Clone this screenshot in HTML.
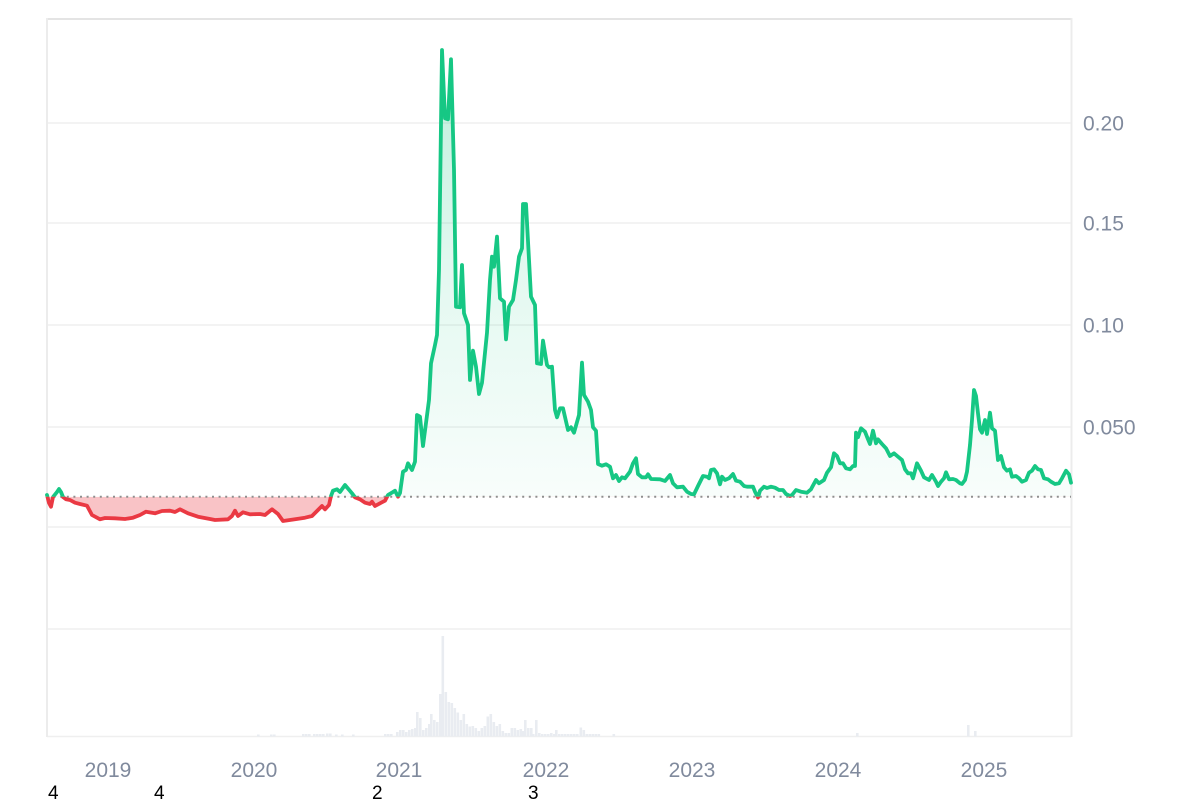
<!DOCTYPE html>
<html>
<head>
<meta charset="utf-8">
<style>
  html,body{margin:0;padding:0;background:#fff;}
  svg{display:block;}
  text{font-family:"Liberation Sans",Arial,sans-serif;}
</style>
</head>
<body>
<svg width="1200" height="800" viewBox="0 0 1200 800" xmlns="http://www.w3.org/2000/svg">
  <defs>
    <linearGradient id="gfill" gradientUnits="userSpaceOnUse" x1="0" y1="40" x2="0" y2="497">
      <stop offset="0" stop-color="#16c784" stop-opacity="0.30"/>
      <stop offset="0.5" stop-color="#16c784" stop-opacity="0.12"/>
      <stop offset="1" stop-color="#16c784" stop-opacity="0.03"/>
    </linearGradient>
    <clipPath id="above"><rect x="0" y="0" width="1200" height="496.7"/></clipPath>
    <clipPath id="below"><rect x="0" y="496.7" width="1200" height="303.3"/></clipPath>
    <path id="area" d="M47 495 49 503 51 506.7 53 497 57 492 59 489 61 492 63 497 66 499.3 70 500 75 502.7 80 504 87 505.7 92 515 100 519.3 105 518 115 518.3 125 519 133 517.7 140 515 146 511.7 155 513.3 162 511 170 510.7 175 512 180 509.3 188 513.3 198 516.7 210 519 215 520 228 519.3 232 516 235 510.7 238 516 243 512.3 250 514.3 260 514 265 515 272 509.3 278 514 283 521 295 519.3 305 517.7 312 516 318 510 322 506 325 509.3 329 505 331 496 333 490.7 337 489.3 340 492 345 485 352 493.3 355 497.3 360 499.3 365 502.7 370 504 372 501.7 375 506 380 503.3 385 500.7 388 495 393 492 395 490.7 398 496.7 400 493 403 471.7 406 470 408 463.3 412 470 415 461.7 417 415 420 416.7 423 446 429 400 431 363.3 435 345 437 335 439 270 442 50 445 118.3 448 119.3 451 59.3 454 170 456 306.7 460 307.3 462 265 464 313.3 468 325 470 380 473 350.7 476 366.7 479 394 482 382.7 487 332.7 490 280 492 256.7 494 266.7 497 236.7 500 298.3 504 301.7 506 339.3 509 306.7 513 300 516 280 519 256.7 522 248.3 523 204 526 204 531 296.7 535 305 537 363.3 541 364 543 340.7 547 365 549 367.3 552 366.7 555 410 557 417.3 560 408.3 563 408.3 568 430 571 427.3 574 432.7 579 415 582 362.7 584 395 588 401.7 591 410 593 427.3 596 430.7 598 464 602 465.7 606 464.3 610 466.7 613 478.3 616 475 619 481 622 477.3 625 478.3 630 471.7 633 463.3 636 458.3 638 474 642 477.3 646 477.3 648 474.3 651 479 660 479.3 665 481 670 475 673 483.3 677 487.3 683 486.7 687 491.7 691 494 694 494.3 698 486 703 476 707 476.7 709 478.3 711 470 714 469.3 717 473.3 720 484.3 722 476.7 725 480 729 478.3 733 474 736 480.7 740 481.7 744 486 747 486.7 753 486.7 755 491.7 758 497.5 760 490.7 764 486.7 767 488 771 486.7 775 487.7 779 490 783 490 786 494 790 496 792 495 796 490 801 491.7 807 492.7 811 489.3 812 487.3 816 480 819 483.3 824 480 827 472.7 831 467.3 834 453.3 837 456 840 463.3 843 463.3 846 468.3 850 469.3 853 466 855 466 856 432.7 858 437.3 861 428.3 865 431.7 868 439.3 870 444 873 430.7 876 443.3 878 439.3 882 444 886 448.3 890 456 894 453.3 898 456.7 902 460 905 469.3 908 473.3 911 473.3 913 478.3 917 463.3 921 470.7 924 477.3 929 480 932 475 936 481.7 938 486 941 481.7 944 478.3 946 472.3 949 479.3 953 479 956 480 960 483.3 962 484 965 480 967 471.7 970 445 972 420 974 390 976 396 978 413.3 980 429.3 982 432.7 985 420 987 434 990 412.7 992 428.3 995 430.7 998 460 1001 456 1004 467.3 1007 470.7 1010 469.3 1012 476.7 1016 476 1019 478.3 1022 481.7 1026 480 1029 472.7 1032 470.7 1035 466 1038 469.3 1041 470 1044 478.3 1048 479.3 1051 481.7 1055 484 1059 483.3 1062 478.3 1066 470.7 1069 474.3 1071 482.7 1071 496.7 47 496.7Z"/>
    <path id="line" d="M47,495 L49,503 L51,506.7 L53,497 L57,492 L59,489 L61,492 L63,497 L66,499.3 L70,500 L75,502.7 L80,504 L87,505.7 L92,515 L100,519.3 L105,518 L115,518.3 L125,519 L133,517.7 L140,515 L146,511.7 L155,513.3 L162,511 L170,510.7 L175,512 L180,509.3 L188,513.3 L198,516.7 L210,519 L215,520 L228,519.3 L232,516 L235,510.7 L238,516 L243,512.3 L250,514.3 L260,514 L265,515 L272,509.3 L278,514 L283,521 L295,519.3 L305,517.7 L312,516 L318,510 L322,506 L325,509.3 L329,505 L331,496 L333,490.7 L337,489.3 L340,492 L345,485 L352,493.3 L355,497.3 L360,499.3 L365,502.7 L370,504 L372,501.7 L375,506 L380,503.3 L385,500.7 L388,495 L393,492 L395,490.7 L398,496.7 L400,493 L403,471.7 L406,470 L408,463.3 L412,470 L415,461.7 L417,415 L420,416.7 L423,446 L429,400 L431,363.3 L435,345 L437,335 L439,270 L442,50 L445,118.3 L448,119.3 L451,59.3 L454,170 L456,306.7 L460,307.3 L462,265 L464,313.3 L468,325 L470,380 L473,350.7 L476,366.7 L479,394 L482,382.7 L487,332.7 L490,280 L492,256.7 L494,266.7 L497,236.7 L500,298.3 L504,301.7 L506,339.3 L509,306.7 L513,300 L516,280 L519,256.7 L522,248.3 L523,204 L526,204 L531,296.7 L535,305 L537,363.3 L541,364 L543,340.7 L547,365 L549,367.3 L552,366.7 L555,410 L557,417.3 L560,408.3 L563,408.3 L568,430 L571,427.3 L574,432.7 L579,415 L582,362.7 L584,395 L588,401.7 L591,410 L593,427.3 L596,430.7 L598,464 L602,465.7 L606,464.3 L610,466.7 L613,478.3 L616,475 L619,481 L622,477.3 L625,478.3 L630,471.7 L633,463.3 L636,458.3 L638,474 L642,477.3 L646,477.3 L648,474.3 L651,479 L660,479.3 L665,481 L670,475 L673,483.3 L677,487.3 L683,486.7 L687,491.7 L691,494 L694,494.3 L698,486 L703,476 L707,476.7 L709,478.3 L711,470 L714,469.3 L717,473.3 L720,484.3 L722,476.7 L725,480 L729,478.3 L733,474 L736,480.7 L740,481.7 L744,486 L747,486.7 L753,486.7 L755,491.7 L758,497.5 L760,490.7 L764,486.7 L767,488 L771,486.7 L775,487.7 L779,490 L783,490 L786,494 L790,496 L792,495 L796,490 L801,491.7 L807,492.7 L811,489.3 L812,487.3 L816,480 L819,483.3 L824,480 L827,472.7 L831,467.3 L834,453.3 L837,456 L840,463.3 L843,463.3 L846,468.3 L850,469.3 L853,466 L855,466 L856,432.7 L858,437.3 L861,428.3 L865,431.7 L868,439.3 L870,444 L873,430.7 L876,443.3 L878,439.3 L882,444 L886,448.3 L890,456 L894,453.3 L898,456.7 L902,460 L905,469.3 L908,473.3 L911,473.3 L913,478.3 L917,463.3 L921,470.7 L924,477.3 L929,480 L932,475 L936,481.7 L938,486 L941,481.7 L944,478.3 L946,472.3 L949,479.3 L953,479 L956,480 L960,483.3 L962,484 L965,480 L967,471.7 L970,445 L972,420 L974,390 L976,396 L978,413.3 L980,429.3 L982,432.7 L985,420 L987,434 L990,412.7 L992,428.3 L995,430.7 L998,460 L1001,456 L1004,467.3 L1007,470.7 L1010,469.3 L1012,476.7 L1016,476 L1019,478.3 L1022,481.7 L1026,480 L1029,472.7 L1032,470.7 L1035,466 L1038,469.3 L1041,470 L1044,478.3 L1048,479.3 L1051,481.7 L1055,484 L1059,483.3 L1062,478.3 L1066,470.7 L1069,474.3 L1071,482.7"/>
  </defs>

  <g stroke="#efefef" stroke-width="1.6" fill="none">
    <line x1="47" y1="123" x2="1071" y2="123"/>
    <line x1="47" y1="223" x2="1071" y2="223"/>
    <line x1="47" y1="325" x2="1071" y2="325"/>
    <line x1="47" y1="427" x2="1071" y2="427"/>
    <line x1="47" y1="527" x2="1071" y2="527"/>
    <line x1="47" y1="629" x2="1071" y2="629"/>
    <line x1="47" y1="736.5" x2="1071" y2="736.5"/>
  </g>
  <line x1="46" y1="19" x2="1072" y2="19" stroke="#e4e4e4" stroke-width="2"/>
  <line x1="47" y1="18" x2="47" y2="737" stroke="#ececec" stroke-width="2"/>
  <line x1="1071.5" y1="18" x2="1071.5" y2="737" stroke="#ececec" stroke-width="2"/>

  <g fill="#e9ecf1">
    <rect x="257" y="734.5" width="2.6" height="2"/>
    <rect x="270" y="734.5" width="2.6" height="2"/>
    <rect x="273" y="734.5" width="2.6" height="2"/>
    <rect x="302" y="734" width="2.6" height="2.5"/>
    <rect x="305" y="734" width="2.6" height="2.5"/>
    <rect x="308" y="734" width="2.6" height="2.5"/>
    <rect x="313" y="734" width="2.6" height="2.5"/>
    <rect x="316" y="734" width="2.6" height="2.5"/>
    <rect x="319" y="734" width="2.6" height="2.5"/>
    <rect x="322" y="734" width="2.6" height="2.5"/>
    <rect x="326" y="733.5" width="2.6" height="3"/>
    <rect x="329" y="733.5" width="2.6" height="3"/>
    <rect x="335" y="734.5" width="2.6" height="2"/>
    <rect x="341" y="734.5" width="2.6" height="2"/>
    <rect x="352" y="734.5" width="2.6" height="2"/>
    <rect x="384" y="734" width="2.6" height="2.5"/>
    <rect x="387" y="734" width="2.6" height="2.5"/>
    <rect x="390" y="734" width="2.6" height="2.5"/>
    <rect x="396" y="732" width="2.6" height="4.5"/>
    <rect x="399" y="730" width="2.6" height="6.5"/>
    <rect x="402" y="730" width="2.6" height="6.5"/>
    <rect x="405" y="732" width="2.6" height="4.5"/>
    <rect x="408" y="730" width="2.6" height="6.5"/>
    <rect x="411" y="729" width="2.6" height="7.5"/>
    <rect x="414" y="728" width="2.6" height="8.5"/>
    <rect x="416" y="712" width="2.6" height="24.5"/>
    <rect x="419" y="718" width="2.6" height="18.5"/>
    <rect x="422" y="730" width="2.6" height="6.5"/>
    <rect x="425" y="728" width="2.6" height="8.5"/>
    <rect x="428" y="724" width="2.6" height="12.5"/>
    <rect x="430" y="714" width="2.6" height="22.5"/>
    <rect x="433" y="720" width="2.6" height="16.5"/>
    <rect x="436" y="722" width="2.6" height="14.5"/>
    <rect x="439" y="694" width="2.6" height="42.5"/>
    <rect x="441.5" y="636" width="2.6" height="100.5"/>
    <rect x="444.5" y="692" width="2.6" height="44.5"/>
    <rect x="447.5" y="702" width="2.6" height="34.5"/>
    <rect x="450.5" y="703" width="2.6" height="33.5"/>
    <rect x="453.5" y="708" width="2.6" height="28.5"/>
    <rect x="456.5" y="712.5" width="2.6" height="24"/>
    <rect x="459.5" y="720" width="2.6" height="16.5"/>
    <rect x="462.5" y="714" width="2.6" height="22.5"/>
    <rect x="465.5" y="724" width="2.6" height="12.5"/>
    <rect x="468.5" y="726.5" width="2.6" height="10"/>
    <rect x="471.5" y="726" width="2.6" height="10.5"/>
    <rect x="474.5" y="728" width="2.6" height="8.5"/>
    <rect x="477.5" y="731" width="2.6" height="5.5"/>
    <rect x="480.5" y="728" width="2.6" height="8.5"/>
    <rect x="483.5" y="726" width="2.6" height="10.5"/>
    <rect x="486.5" y="716.5" width="2.6" height="20"/>
    <rect x="489.5" y="714" width="2.6" height="22.5"/>
    <rect x="492.5" y="722" width="2.6" height="14.5"/>
    <rect x="495.5" y="726" width="2.6" height="10.5"/>
    <rect x="498.5" y="724" width="2.6" height="12.5"/>
    <rect x="501.5" y="731" width="2.6" height="5.5"/>
    <rect x="504.5" y="733" width="2.6" height="3.5"/>
    <rect x="507.5" y="733" width="2.6" height="3.5"/>
    <rect x="510.5" y="728" width="2.6" height="8.5"/>
    <rect x="513.5" y="728" width="2.6" height="8.5"/>
    <rect x="516.5" y="730" width="2.6" height="6.5"/>
    <rect x="519.5" y="729" width="2.6" height="7.5"/>
    <rect x="522" y="731" width="2.6" height="5.5"/>
    <rect x="524" y="720" width="2.6" height="16.5"/>
    <rect x="527" y="728" width="2.6" height="8.5"/>
    <rect x="530" y="728" width="2.6" height="8.5"/>
    <rect x="532" y="734" width="2.6" height="2.5"/>
    <rect x="535" y="720" width="2.6" height="16.5"/>
    <rect x="538" y="733" width="2.6" height="3.5"/>
    <rect x="541" y="734" width="2.6" height="2.5"/>
    <rect x="544" y="734" width="2.6" height="2.5"/>
    <rect x="547" y="734" width="2.6" height="2.5"/>
    <rect x="550" y="733" width="2.6" height="3.5"/>
    <rect x="553" y="734" width="2.6" height="2.5"/>
    <rect x="555" y="730" width="2.6" height="6.5"/>
    <rect x="558" y="734" width="2.6" height="2.5"/>
    <rect x="561" y="734" width="2.6" height="2.5"/>
    <rect x="564" y="734" width="2.6" height="2.5"/>
    <rect x="567" y="734" width="2.6" height="2.5"/>
    <rect x="570" y="734" width="2.6" height="2.5"/>
    <rect x="573" y="734" width="2.6" height="2.5"/>
    <rect x="576" y="734" width="2.6" height="2.5"/>
    <rect x="579.5" y="727.5" width="2.6" height="9"/>
    <rect x="582.5" y="730" width="2.6" height="6.5"/>
    <rect x="585.5" y="734" width="2.6" height="2.5"/>
    <rect x="588.5" y="734" width="2.6" height="2.5"/>
    <rect x="591.5" y="734" width="2.6" height="2.5"/>
    <rect x="594.5" y="734" width="2.6" height="2.5"/>
    <rect x="597.5" y="734" width="2.6" height="2.5"/>
    <rect x="612.5" y="734" width="2.6" height="2.5"/>
    <rect x="856" y="733" width="2.6" height="3.5"/>
    <rect x="967" y="725" width="2.6" height="11.5"/>
    <rect x="974" y="731" width="2.6" height="5.5"/>
  </g>

  <use href="#area" fill="url(#gfill)" clip-path="url(#above)"/>
  <use href="#area" fill="#ea3943" fill-opacity="0.3" clip-path="url(#below)"/>

  <line x1="47" y1="496.7" x2="1071" y2="496.7" stroke="#8f8f8f" stroke-width="2" stroke-dasharray="2 4.6"/>

  <use href="#line" fill="none" stroke="#16c784" stroke-width="3.8" stroke-linejoin="round" stroke-linecap="round" clip-path="url(#above)"/>
  <use href="#line" fill="none" stroke="#ea3943" stroke-width="3.8" stroke-linejoin="round" stroke-linecap="round" clip-path="url(#below)"/>

  <g fill="#808a9d" font-size="21">
    <text x="1083" y="130.5">0.20</text>
    <text x="1083" y="230.5">0.15</text>
    <text x="1083" y="332.5">0.10</text>
    <text x="1083" y="434.5">0.050</text>
  </g>
  <g fill="#808a9d" font-size="21" text-anchor="middle">
    <text x="108" y="777">2019</text>
    <text x="254" y="777">2020</text>
    <text x="399" y="777">2021</text>
    <text x="546" y="777">2022</text>
    <text x="692" y="777">2023</text>
    <text x="838" y="777">2024</text>
    <text x="984" y="777">2025</text>
  </g>
  <g fill="#000" font-size="19">
    <text x="48" y="799">4</text>
    <text x="154" y="799">4</text>
    <text x="372" y="799">2</text>
    <text x="528" y="799">3</text>
  </g>
</svg>
</body>
</html>
